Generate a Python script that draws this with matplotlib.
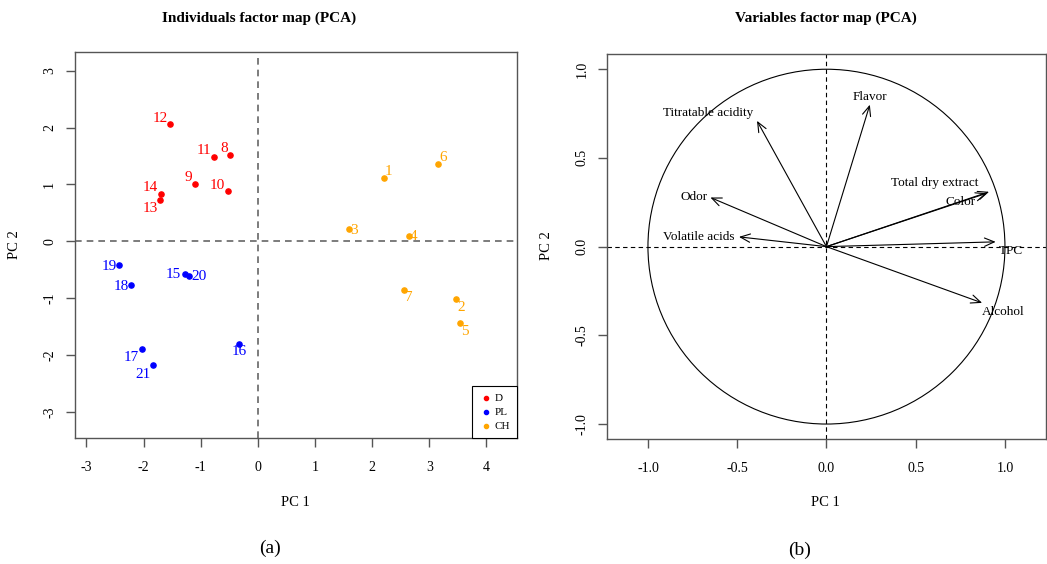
import numpy as np
import matplotlib
matplotlib.use('Agg')
import matplotlib.pyplot as plt
from matplotlib.patches import Circle


plt.rcParams['font.family'] = ['Liberation Serif', 'DejaVu Serif']
plt.rcParams['axes.unicode_minus'] = False

# individuals (PCA scores)
d_labels = ['8', '9', '10', '11', '12', '13', '14']
d_pc1 = [-0.48, -1.10, -0.53, -0.76, -1.54, -1.71, -1.70]
d_pc2 = [1.52, 1.01, 0.88, 1.49, 2.06, 0.72, 0.84]

pl_labels = ['15', '16', '17', '18', '19', '20', '21']
pl_pc1 = [-1.28, -0.33, -2.02, -2.22, -2.43, -1.21, -1.84]
pl_pc2 = [-0.57, -1.80, -1.90, -0.77, -0.42, -0.61, -2.18]

ch_labels = ['1', '2', '3', '4', '5', '6', '7']
ch_pc1 = [2.20, 3.47, 1.60, 2.64, 3.54, 3.16, 2.56]
ch_pc2 = [1.12, -1.02, 0.22, 0.10, -1.44, 1.36, -0.85]

# variables (loadings)
var_names = ['Titratable acidity', 'Odor', 'Volatile acids', 'Flavor',
             'Total dry extract', 'Color', 'TPC', 'Alcohol']
var_pc1 = [-0.389, -0.650, -0.490, 0.243, 0.911, 0.898, 0.948, 0.872]
var_pc2 = [0.709, 0.277, 0.055, 0.800, 0.309, 0.301, 0.027, -0.317]

# label offsets in pixels (dx, dy), screen y up
POINT_OFFSETS = {
    '12': (-10, 6), '11': (-10, 6), '8': (-6, 6), '9': (-7, 6), '10': (-10, 6),
    '14': (-10, 6), '13': (-10, -8),
    '19': (-10, -1), '18': (-10, -1), '15': (-11, -1), '20': (10, -1),
    '17': (-11, -8), '21': (-10, -9), '16': (0, -8),
    '1': (5, 6), '6': (5, 6), '3': (5, -2), '4': (5, -1),
    '7': (5, -8), '2': (5, -8), '5': (5, -8),
}
VAR_TEXT = {
    'Titratable acidity': ((-4, 2), 'right', 'bottom'),
    'Odor': ((-3, 0), 'right', 'center'),
    'Volatile acids': ((-4, 0), 'right', 'center'),
    'Flavor': ((0, 2), 'center', 'bottom'),
    'Total dry extract': ((-11, 3), 'right', 'bottom'),
    'Color': ((-11, -3), 'right', 'top'),
    'TPC': ((3, -3), 'left', 'top'),
    'Alcohol': ((0, -3), 'left', 'top'),
}

PX = 0.72  # points per pixel at dpi 100
GREY = '#555555'

fig = plt.figure(figsize=(10.47, 5.64), dpi=100)


def style_axes(ax):
    for s in ax.spines.values():
        s.set_color(GREY)
        s.set_linewidth(1.0)
    ax.tick_params(axis='both', colors=GREY, labelcolor='black', length=6.5,
                   width=1.0, labelsize=10)
    ax.tick_params(axis='x', pad=10)
    ax.tick_params(axis='y', pad=7, labelrotation=90)
    for t in ax.get_yticklabels():
        t.set_va('center')


# ---- (a) individuals ----
ax1 = fig.add_axes([0.0716, 0.2234, 0.4219, 0.6844])
ax1.axhline(0, color='#666666', ls=(0, (4, 3)), lw=1.2)
ax1.axvline(0, color='#666666', ls=(0, (4, 3)), lw=1.2)

groups = [
    ('D', d_labels, d_pc1, d_pc2, '#FF0000'),
    ('PL', pl_labels, pl_pc1, pl_pc2, '#0000FF'),
    ('CH', ch_labels, ch_pc1, ch_pc2, '#FFA500'),
]
for name, labels, xs, ys, color in groups:
    ax1.scatter(xs, ys, s=14, color=color, label=name, zorder=3)
    for lab, x, y in zip(labels, xs, ys):
        dx, dy = POINT_OFFSETS[lab]
        ax1.annotate(lab, (x, y), xytext=(dx * PX, dy * PX),
                     textcoords='offset points', ha='center', va='center',
                     color=color, fontsize=11)

ax1.set_xlim(-3.20, 4.53)
ax1.set_ylim(-3.46, 3.33)
ax1.set_xticks(range(-3, 5))
ax1.set_yticks(range(-3, 4))
style_axes(ax1)
leg = ax1.legend(loc='lower right', borderaxespad=0, fancybox=False,
                 edgecolor='black', framealpha=1, fontsize=8, markerscale=0.8,
                 handletextpad=0.2, handlelength=1.2, borderpad=0.6,
                 labelspacing=0.4)
leg.get_frame().set_linewidth(0.8)

# ---- (b) variables ----
ax2 = fig.add_axes([0.5800, 0.2211, 0.4187, 0.6832])
ax2.axhline(0, color='black', ls=(0, (4, 3)), lw=0.8)
ax2.axvline(0, color='black', ls=(0, (4, 3)), lw=0.8)
ax2.add_patch(Circle((0, 0), 1.0, fill=False, color='black', lw=0.8))

for name, x, y in zip(var_names, var_pc1, var_pc2):
    ax2.annotate('', xy=(x, y), xytext=(0, 0),
                 arrowprops=dict(arrowstyle='->,head_length=0.7,head_width=0.3',
                                 color='black', lw=0.8, shrinkA=0, shrinkB=0))
    (dx, dy), ha, va = VAR_TEXT[name]
    ax2.annotate(name, (x, y), xytext=(dx * PX, dy * PX),
                 textcoords='offset points', ha=ha, va=va, fontsize=9.5)

ax2.set_xlim(-1.228, 1.228)
ax2.set_ylim(-1.086, 1.086)
ax2.set_xticks([-1.0, -0.5, 0.0, 0.5, 1.0])
ax2.set_yticks([-1.0, -0.5, 0.0, 0.5, 1.0])
ax2.set_xticklabels(['-1.0', '-0.5', '0.0', '0.5', '1.0'])
ax2.set_yticklabels(['-1.0', '-0.5', '0.0', '0.5', '1.0'])
style_axes(ax2)

# titles, axis labels, captions
H = 564.0
W = 1047.0
fig.text(259 / W, 1 - 18 / H, 'Individuals factor map (PCA)', ha='center',
         va='center', fontsize=11, fontweight='bold')
fig.text(826 / W, 1 - 18 / H, 'Variables factor map (PCA)', ha='center',
         va='center', fontsize=11, fontweight='bold')
fig.text(295 / W, 1 - 503 / H, 'PC 1', ha='center', va='center', fontsize=10.5)
fig.text(825 / W, 1 - 503 / H, 'PC 1', ha='center', va='center', fontsize=10.5)
fig.text(15 / W, 1 - 245 / H, 'PC 2', ha='center', va='center', fontsize=10.5,
         rotation=90)
fig.text(547 / W, 1 - 246 / H, 'PC 2', ha='center', va='center', fontsize=10.5,
         rotation=90)
fig.text(270 / W, 1 - 548 / H, '(a)', ha='center', va='center', fontsize=14)
fig.text(800 / W, 1 - 550 / H, '(b)', ha='center', va='center', fontsize=14)

fig.savefig('out.png', dpi=100)
